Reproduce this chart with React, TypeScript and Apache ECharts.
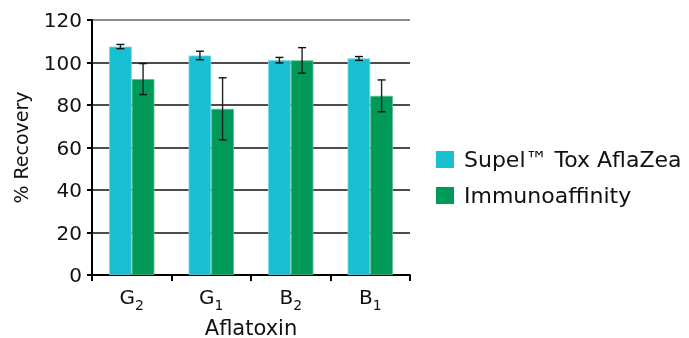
import React, { useEffect, useRef } from "react";
import * as echarts from "echarts";

const categories = ["G|2", "G|1", "B|2", "B|1"];
const supelValues = [107.5, 103.3, 101.1, 101.9];
const supelErrors = [1.0, 2.0, 1.3, 0.9];
const immunoValues = [92.2, 78.2, 101.0, 84.3];
const immunoErrors = [7.3, 14.6, 6.0, 7.5];
const seriesNames = ["Supel™ Tox AflaZea", "Immunoaffinity"];
const yTicks = { min: 0, max: 120, interval: 20 };

const FONT = "Verdana, 'DejaVu Sans', sans-serif";
const CYAN = "#18BFD0";
const GREEN = "#009A58";
const CAT_GAP = 0.43;

export default function App() {
  const ref = useRef<HTMLDivElement>(null);
  useEffect(() => {
    if (!ref.current) return;
    const chart = echarts.init(ref.current, null, { renderer: "svg" });
    const errData: number[][] = [];
    categories.forEach((_, i) => {
      errData.push([i, supelValues[i] - supelErrors[i], supelValues[i] + supelErrors[i], 0]);
      errData.push([i, immunoValues[i] - immunoErrors[i], immunoValues[i] + immunoErrors[i], 1]);
    });
    chart.setOption({
      animation: false,
      textStyle: { fontFamily: FONT, color: "#000" },
      grid: { left: 92, right: 279, top: 20, bottom: 63, containLabel: false, outerBoundsMode: "none" },
      legend: {
        orient: "vertical",
        left: 431,
        top: 143,
        itemWidth: 18,
        itemHeight: 17,
        itemGap: 13,
        icon: "rect",
        data: seriesNames,
        itemStyle: { borderWidth: 0 },
        textStyle: { fontFamily: FONT, fontSize: 22, color: "#111", padding: [0, 0, 0, 5], lineHeight: 23 },
      },
      xAxis: {
        type: "category",
        data: categories,
        name: "Aflatoxin",
        nameLocation: "middle",
        nameGap: 42,
        nameTextStyle: { fontFamily: FONT, fontSize: 21, color: "#111" },
        axisLine: { lineStyle: { color: "#000", width: 2 } },
        axisTick: { show: true, length: 6, interval: 0, lineStyle: { color: "#000", width: 2 } },
        axisLabel: {
          margin: 12,
          interval: 0,
          formatter: (v: string) => {
            const [b, s] = v.split("|");
            return `{b|${b}}{s|${s}}`;
          },
          rich: {
            b: { fontFamily: FONT, fontSize: 20, color: "#111", verticalAlign: "top", lineHeight: 22 },
            s: { fontFamily: FONT, fontSize: 14, color: "#111", verticalAlign: "top", padding: [11, 0, 0, 0], lineHeight: 16 },
          },
        },
      },
      yAxis: {
        type: "value",
        min: yTicks.min,
        max: yTicks.max,
        interval: yTicks.interval,
        name: "% Recovery",
        nameLocation: "middle",
        nameGap: 62,
        nameTextStyle: { fontFamily: FONT, fontSize: 19, color: "#111" },
        axisLine: { show: true, lineStyle: { color: "#000", width: 2 } },
        axisTick: { show: true, length: 5, lineStyle: { color: "#000", width: 2 } },
        axisLabel: { fontFamily: FONT, fontSize: 20, color: "#111", margin: 10 },
        splitLine: {
          show: true,
          lineStyle: { color: ["#000", "#111", "#111", "#111", "#111", "#111", "#666"], width: 1.6 },
        },
      },
      series: [
        {
          name: seriesNames[0],
          type: "bar",
          data: supelValues,
          barGap: "0%",
          barCategoryGap: `${CAT_GAP * 100}%`,
          itemStyle: { color: CYAN, borderColor: "#7ED8E2", borderWidth: 0.8 },
        },
        {
          name: seriesNames[1],
          type: "bar",
          data: immunoValues,
          barGap: "0%",
          barCategoryGap: `${CAT_GAP * 100}%`,
          itemStyle: { color: GREEN, borderColor: "#5DBB8E", borderWidth: 0.8 },
        },
        {
          type: "custom",
          z: 10,
          data: errData,
          encode: { x: 0, y: [1, 2] },
          renderItem: (_params: any, api: any) => {
            const idx = api.value(0);
            const low = api.coord([idx, api.value(1)]);
            const high = api.coord([idx, api.value(2)]);
            const band = api.size([1, 0])[0];
            const barW = (band * (1 - CAT_GAP)) / 2;
            const x = low[0] + (api.value(3) === 0 ? -1 : 1) * (barW / 2);
            const cap = 4;
            const st = { stroke: "#111", lineWidth: 1.4 };
            return {
              type: "group",
              children: [
                { type: "line", shape: { x1: x, y1: high[1], x2: x, y2: low[1] }, style: { stroke: "#222", lineWidth: 1.4 } },
                { type: "line", shape: { x1: x - cap, y1: high[1], x2: x + cap, y2: high[1] }, style: st },
                { type: "line", shape: { x1: x - cap, y1: low[1], x2: x + cap, y2: low[1] }, style: st },
              ],
            };
          },
        },
      ],
    });
    return () => chart.dispose();
  }, []);
  return <div ref={ref} style={{ position: "fixed", left: 0, top: 0, width: 689, height: 338 }} />;
}
